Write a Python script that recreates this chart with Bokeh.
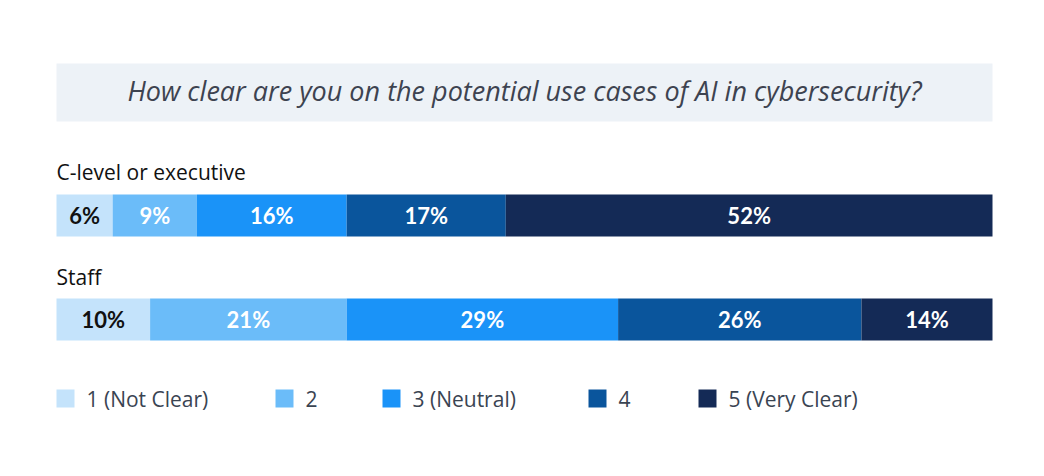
from bokeh.plotting import figure
from bokeh.models import ColumnDataSource, Range1d
from bokeh.core.properties import value
from bokeh.embed import file_html
from bokeh.resources import INLINE

# Survey data: share of respondents per clarity rating (percent)
question = "How clear are you on the potential use cases of AI in cybersecurity?"
groups = ["C-level or executive", "Staff"]
ratings = ["1 (Not Clear)", "2", "3 (Neutral)", "4", "5 (Very Clear)"]
clevel_values = [6, 9, 16, 17, 52]
staff_values = [10, 21, 29, 26, 14]
colors = ["#c4e3fb", "#6bbcf9", "#1a93f8", "#0a559c", "#142a56"]
label_colors = ["#111111", "#ffffff", "#ffffff", "#ffffff", "#ffffff"]

W, H = 1044, 476
LEFT_PX, RIGHT_PX = 56, 992
scale = 100.0 / (RIGHT_PX - LEFT_PX)

p = figure(width=W, height=H, output_backend="svg", toolbar_location=None,
           x_range=Range1d(-LEFT_PX * scale, (W - LEFT_PX) * scale),
           y_range=Range1d(H, 0), min_border=0)
p.axis.visible = False
p.grid.visible = False
p.outline_line_color = None
p.background_fill_color = "white"
p.border_fill_color = "white"

FONT = value("Open Sans")

# Question banner
p.quad(left=[0], right=[100], top=[63], bottom=[121],
       fill_color="#edf2f7", line_color=None)
p.text(x=[50], y=[90], text=[question], text_font=FONT, text_font_style="italic",
       text_font_size="27px", text_color="#3d4350",
       text_align="center", text_baseline="middle")

# Stacked bars
bar_y = [215, 319]
label_y = [171, 276]
for g, vals, by, ly in zip(groups, [clevel_values, staff_values], bar_y, label_y):
    lefts, rights = [], []
    acc = 0
    for v in vals:
        lefts.append(acc)
        acc += v
        rights.append(acc)
    src = ColumnDataSource(dict(
        left=lefts, right=rights, y=[by] * len(vals), color=colors,
        mid=[(l + r) / 2 for l, r in zip(lefts, rights)],
        txt=[f"{v}%" for v in vals], tcol=label_colors))
    p.hbar(y="y", left="left", right="right", height=42, fill_color="color",
           line_color=None, source=src)
    p.text(x="mid", y="y", text="txt", text_color="tcol", source=src,
           text_font=value("Lato"), text_font_style="bold", text_font_size="22px",
           text_align="center", text_baseline="middle")
    p.text(x=[0], y=[ly], text=[g], text_font=FONT, text_font_size="21px",
           text_color="#111111", text_align="left", text_baseline="middle")

# Legend
legend_px = [56, 275, 382, 588, 698]
leg_x = [(px - LEFT_PX) * scale for px in legend_px]
sq_w = 18 * scale
leg_src = ColumnDataSource(dict(
    left=leg_x, right=[x + sq_w for x in leg_x], color=colors,
    tx=[x + 30 * scale for x in leg_x], label=ratings))
p.quad(left="left", right="right", top=389, bottom=407, fill_color="color",
       line_color=None, source=leg_src)
p.text(x="tx", y=398, text="label", source=leg_src, text_font=FONT,
       text_font_size="21px", text_color="#3a4452",
       text_align="left", text_baseline="middle")

open("out.html", "w").write(file_html(p, INLINE))
